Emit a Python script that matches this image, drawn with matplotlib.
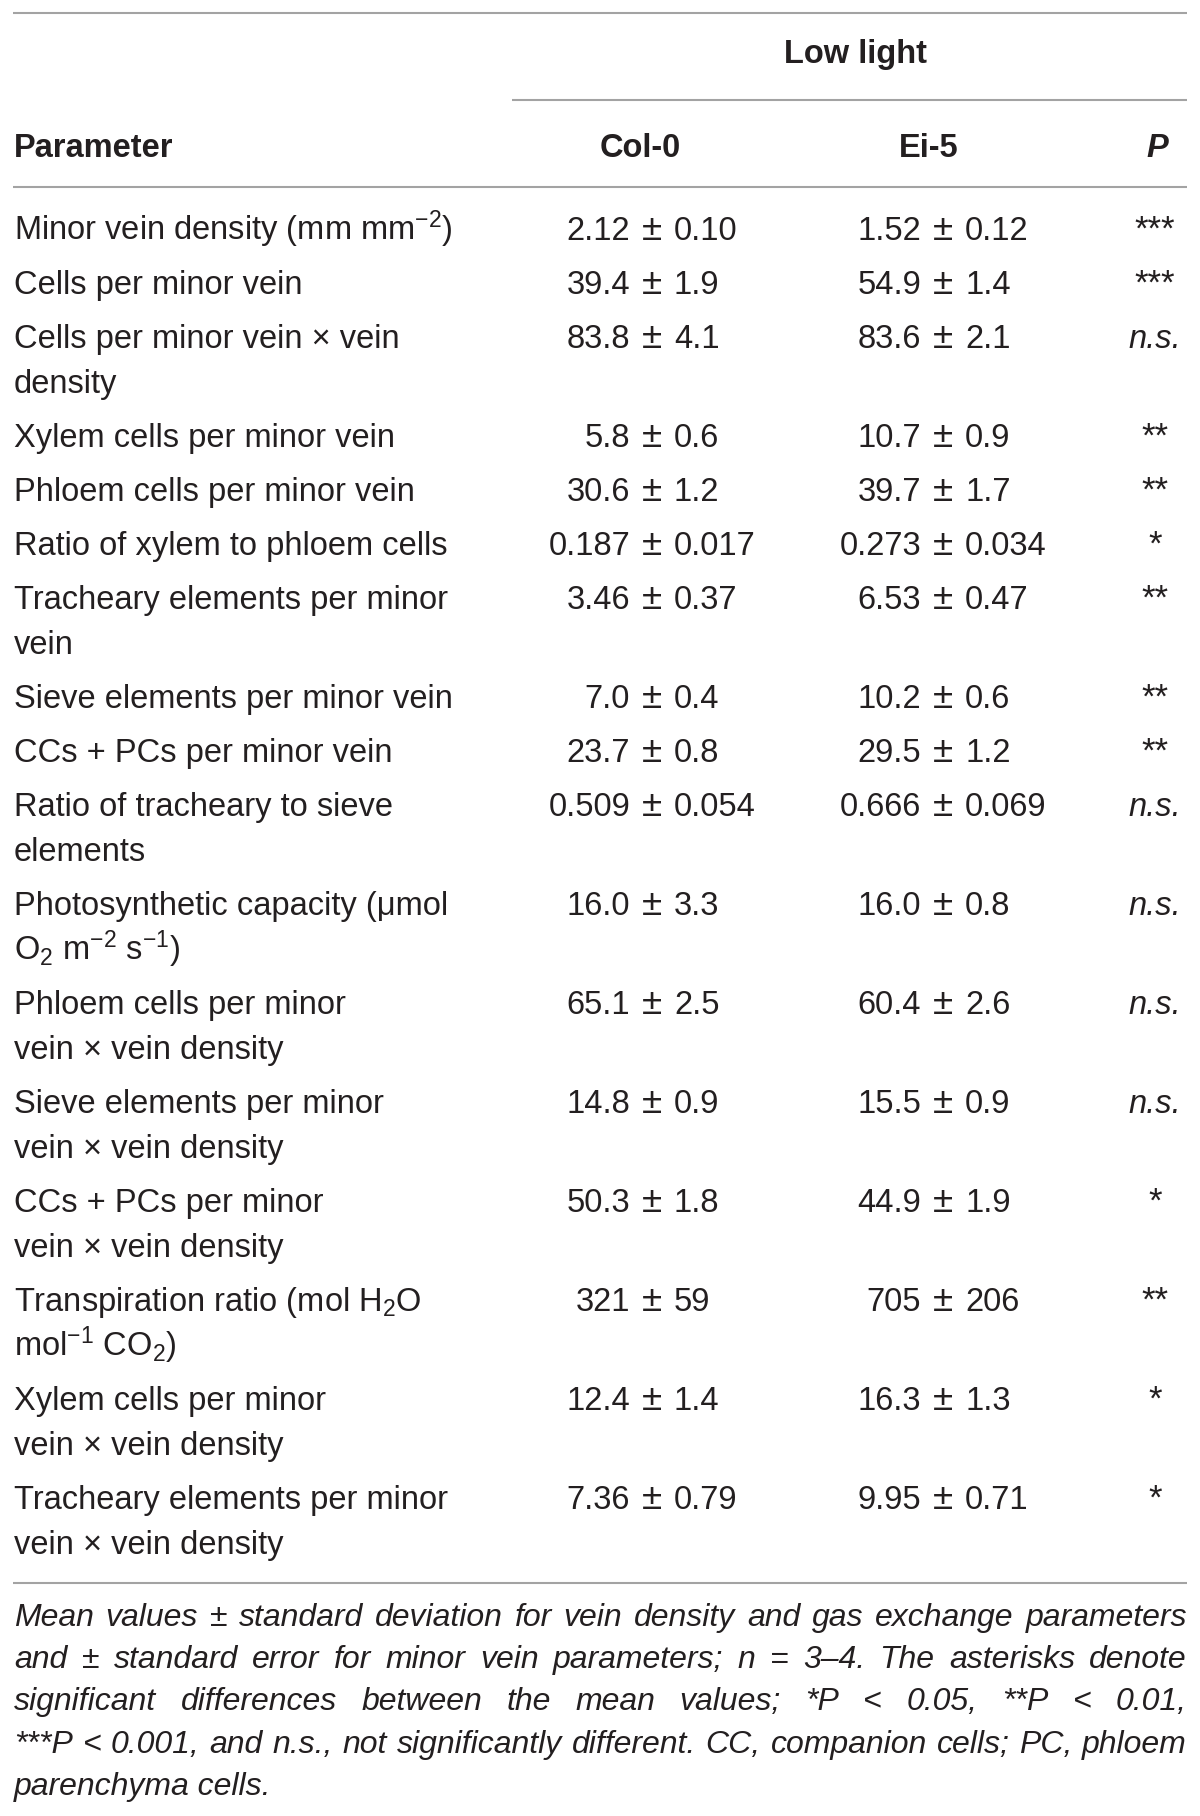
import matplotlib
matplotlib.use("Agg")
import matplotlib.pyplot as plt

plt.rcParams['font.family'] = ['Liberation Sans', 'DejaVu Sans']
plt.rcParams['mathtext.fontset'] = 'custom'
plt.rcParams['mathtext.rm'] = 'Liberation Sans'
plt.rcParams['mathtext.it'] = 'Liberation Sans:italic'
plt.rcParams['mathtext.bf'] = 'Liberation Sans:bold'
plt.rcParams['mathtext.default'] = 'regular'

# datos de la tabla
params = [
    ["Minor vein density (mm mm$^{-2}$)"],
    ["Cells per minor vein"],
    ["Cells per minor vein × vein", "density"],
    ["Xylem cells per minor vein"],
    ["Phloem cells per minor vein"],
    ["Ratio of xylem to phloem cells"],
    ["Tracheary elements per minor", "vein"],
    ["Sieve elements per minor vein"],
    ["CCs + PCs per minor vein"],
    ["Ratio of tracheary to sieve", "elements"],
    ["Photosynthetic capacity (μmol", "O$_2$ m$^{-2}$ s$^{-1}$)"],
    ["Phloem cells per minor", "vein × vein density"],
    ["Sieve elements per minor", "vein × vein density"],
    ["CCs + PCs per minor", "vein × vein density"],
    ["Transpiration ratio (mol H$_2$O", "mol$^{-1}$ CO$_2$)"],
    ["Xylem cells per minor", "vein × vein density"],
    ["Tracheary elements per minor", "vein × vein density"],
]
col0_mean = ["2.12", "39.4", "83.8", "5.8", "30.6", "0.187", "3.46", "7.0", "23.7",
             "0.509", "16.0", "65.1", "14.8", "50.3", "321", "12.4", "7.36"]
col0_err = ["0.10", "1.9", "4.1", "0.6", "1.2", "0.017", "0.37", "0.4", "0.8",
            "0.054", "3.3", "2.5", "0.9", "1.8", "59", "1.4", "0.79"]
ei5_mean = ["1.52", "54.9", "83.6", "10.7", "39.7", "0.273", "6.53", "10.2", "29.5",
            "0.666", "16.0", "60.4", "15.5", "44.9", "705", "16.3", "9.95"]
ei5_err = ["0.12", "1.4", "2.1", "0.9", "1.7", "0.034", "0.47", "0.6", "1.2",
           "0.069", "0.8", "2.6", "0.9", "1.9", "206", "1.3", "0.71"]
pvals = ["***", "***", "n.s.", "**", "**", "*", "**", "**", "**",
         "n.s.", "n.s.", "n.s.", "n.s.", "*", "**", "*", "*"]

group_label = "Low light"
headers = ["Parameter", "Col-0", "Ei-5", "P"]

footnote = [
    "Mean values ± standard deviation for vein density and gas exchange parameters",
    "and ± standard error for minor vein parameters; n = 3–4. The asterisks denote",
    "significant differences between the mean values; *P < 0.05, **P < 0.01,",
    "***P < 0.001, and n.s., not significantly different. CC, companion cells; PC, phloem",
    "parenchyma cells.",
]

# figura en coordenadas de pixeles
fig = plt.figure(figsize=(12, 18.16), dpi=100)
ax = fig.add_axes([0, 0, 1, 1])
ax.set_xlim(0, 1200)
ax.set_ylim(1816, 0)
ax.axis('off')

TXT = '#231f20'
LINE = '#a3a3a3'
FS = 23.5
FS_FOOT = 23
x_left, x_right = 13, 1187
x_col0, x_ei5, x_p = 652, 943, 1155
pm_gap = 22

def hline(y, x0=x_left, x1=x_right):
    ax.plot([x0, x1], [y, y], color=LINE, lw=1.5, solid_capstyle='butt')

hline(12.7)
hline(100, 512)
hline(187)
hline(1583)

# encabezados
ax.text(855, 63, group_label, fontsize=FS, fontweight='bold', color=TXT, ha='center', va='baseline')
ax.text(14, 157, headers[0], fontsize=FS, fontweight='bold', color=TXT, ha='left', va='baseline')
ax.text(640, 157, headers[1], fontsize=FS, fontweight='bold', color=TXT, ha='center', va='baseline')
ax.text(929, 157, headers[2], fontsize=FS, fontweight='bold', color=TXT, ha='center', va='baseline')
ax.text(1157, 157, headers[3], fontsize=FS, fontweight='bold', style='italic', color=TXT,
        ha='center', va='baseline')

def value(xc, y, mean, err):
    ax.text(xc - pm_gap, y, mean, fontsize=FS, color=TXT, ha='right', va='baseline')
    ax.text(xc, y, "±", fontsize=FS + 3, color=TXT, ha='center', va='baseline')
    ax.text(xc + pm_gap, y, err, fontsize=FS, color=TXT, ha='left', va='baseline')

# filas
y = 240
for i, lines in enumerate(params):
    for k, ln in enumerate(lines):
        ax.text(14, y + 45 * k, ln, fontsize=FS, color=TXT, ha='left', va='baseline')
    value(x_col0, y, col0_mean[i], col0_err[i])
    value(x_ei5, y, ei5_mean[i], ei5_err[i])
    if pvals[i] == "n.s.":
        ax.text(x_p, y, pvals[i], fontsize=FS, style='italic', color=TXT, ha='center', va='baseline')
    else:
        ax.text(x_p, y, pvals[i], fontsize=25, color=TXT, ha='center', va='baseline')
    y += 45 * (len(lines) - 1) + 54.0

# nota al pie justificada
renderer = fig.canvas.get_renderer()
foot_y = [1626, 1668, 1710, 1753, 1795]
for j, line in enumerate(footnote):
    if j == len(footnote) - 1:
        ax.text(14, foot_y[j], line, fontsize=FS_FOOT, style='italic', color=TXT,
                ha='left', va='baseline')
        continue
    words = line.split(" ")
    ts = [ax.text(0, foot_y[j], w, fontsize=FS_FOOT, style='italic', color=TXT,
                  ha='left', va='baseline') for w in words]
    ws = [t.get_window_extent(renderer).width for t in ts]
    gap = (x_right - 14 - sum(ws)) / (len(ws) - 1)
    x = 14
    for t, w in zip(ts, ws):
        t.set_x(x)
        x += w + gap

fig.savefig("out.png", dpi=100, facecolor='white')
